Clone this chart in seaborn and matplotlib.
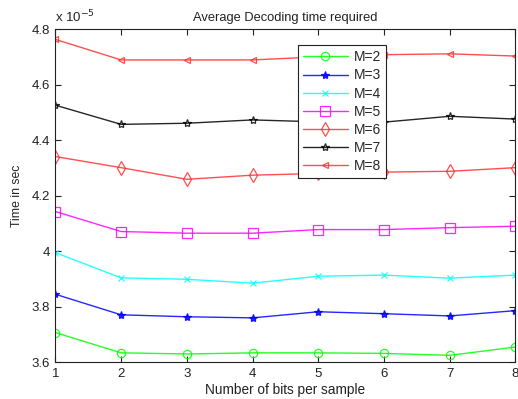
import matplotlib
matplotlib.use("Agg")
import matplotlib.pyplot as plt
import seaborn as sns
import pandas as pd
from matplotlib.ticker import FuncFormatter

bits = [1, 2, 3, 4, 5, 6, 7, 8]
m2 = [3.707, 3.634, 3.630, 3.634, 3.634, 3.632, 3.625, 3.655]
m3 = [3.845, 3.771, 3.764, 3.760, 3.782, 3.775, 3.767, 3.786]
m4 = [3.995, 3.904, 3.899, 3.885, 3.910, 3.914, 3.903, 3.914]
m5 = [4.143, 4.071, 4.065, 4.065, 4.078, 4.078, 4.085, 4.090]
m6 = [4.341, 4.301, 4.259, 4.274, 4.280, 4.285, 4.288, 4.301]
m7 = [4.526, 4.457, 4.461, 4.473, 4.466, 4.465, 4.486, 4.476]
m8 = [4.763, 4.689, 4.689, 4.689, 4.700, 4.708, 4.711, 4.703]
labels = ["M=2", "M=3", "M=4", "M=5", "M=6", "M=7", "M=8"]
series = [m2, m3, m4, m5, m6, m7, m8]

colors = ["#00ff00", "#0000ff", "#00ffff", "#ff00ff", "#ff3030", "#000000", "#ff3030"]
markers = ["o", "*", "x", "s", "d", "*", "<"]
msizes = [6, 6, 4, 7, 7, 6, 5]
filled = [False, True, True, False, False, False, False]

sns.set_theme(style="white")
plt.rcParams["font.family"] = ["Liberation Sans", "DejaVu Sans"]

df = pd.DataFrame({
    "bits": bits * len(series),
    "time": [v for s in series for v in s],
    "M": [lab for lab in labels for _ in bits],
})

fig = plt.figure(figsize=(5.18, 3.99), dpi=100)
ax = fig.add_axes([0.107, 0.092, 0.888, 0.835])

for lab, col, mk, ms, fl in zip(labels, colors, markers, msizes, filled):
    sub = df[df["M"] == lab]
    sns.lineplot(data=sub, x="bits", y="time", ax=ax, color=col, marker=mk,
                 markersize=ms, linewidth=1.0, label=lab,
                 markerfacecolor=(col if fl else "none"), markeredgecolor=col,
                 markeredgewidth=0.9, alpha=0.85)

ax.set_xlim(1, 8)
ax.set_ylim(3.6, 4.8)
ax.set_xticks(bits)
ax.set_yticks([3.6, 3.8, 4.0, 4.2, 4.4, 4.6, 4.8])
ax.yaxis.set_major_formatter(FuncFormatter(lambda v, p: "%g" % round(v, 2)))
ax.tick_params(direction="in", length=4, width=0.8, labelsize=9.5, colors="#222222",
               top=True, right=True, bottom=True, left=True, pad=4)
for sp in ax.spines.values():
    sp.set_color("#222222")
    sp.set_linewidth(0.8)

ax.set_xlabel("Number of bits per sample", fontsize=9.8, color="#222222", labelpad=2)
ax.set_ylabel("Time in sec", fontsize=8.8, color="#222222", labelpad=6)
ax.set_title("Average Decoding time required", fontsize=9.3, color="#222222", pad=6)
ax.text(0.0, 1.012, "x 10$^{-5}$", transform=ax.transAxes, fontsize=9.5,
        color="#222222", ha="left", va="bottom")

leg = ax.legend(loc="upper left", bbox_to_anchor=(0.528, 0.951), fontsize=10,
                frameon=True, fancybox=False, edgecolor="#222222",
                handlelength=3.2, handletextpad=0.45, borderpad=0.35,
                labelspacing=0.3, borderaxespad=0)
leg.get_frame().set_linewidth(0.8)
leg.get_frame().set_alpha(1)

fig.savefig("out.png", dpi=100)
